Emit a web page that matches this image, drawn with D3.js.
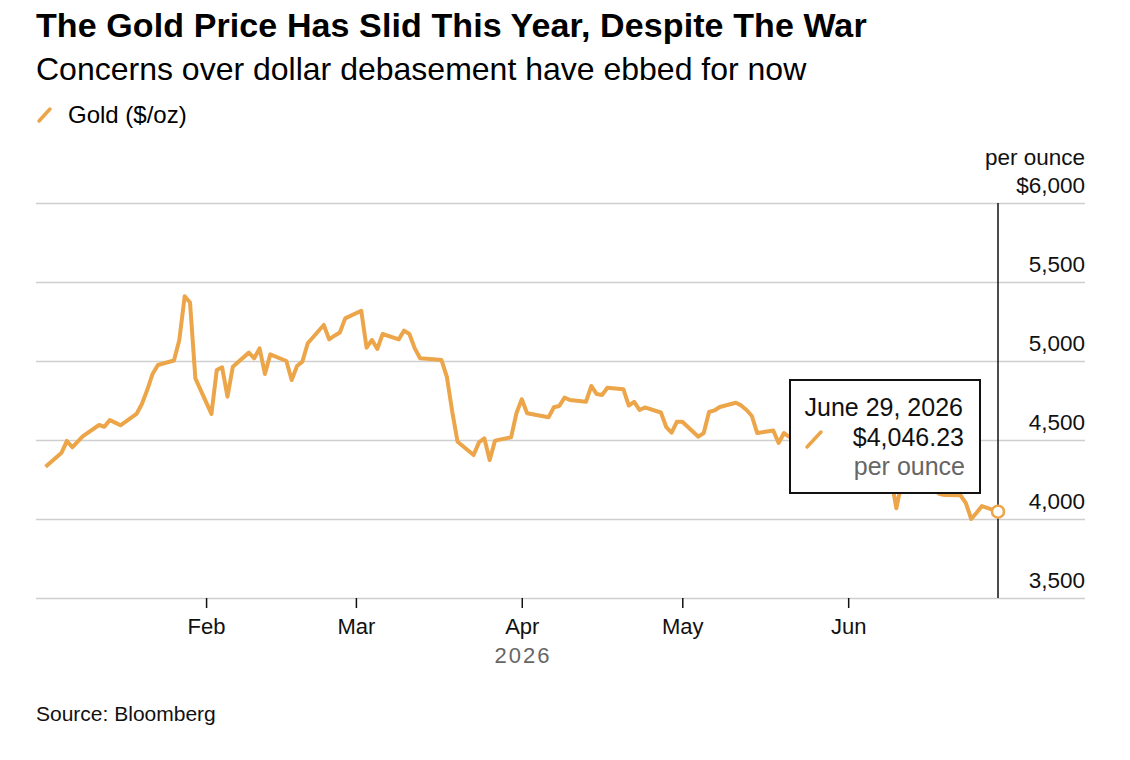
<!DOCTYPE html>
<html>
<head>
<meta charset="utf-8">
<script src="https://cdn.jsdelivr.net/npm/d3@7"></script>
<style>
  body { margin: 0; background: #fff; }
  svg { font-family: "Liberation Sans", Arial, sans-serif; }
</style>
</head>
<body>
<svg id="chart" width="1130" height="760"></svg>
<script>
// gold price, $/oz, trading days 2026
const dates = [
  '2026-01-02','2026-01-05','2026-01-06','2026-01-07','2026-01-08','2026-01-09',
  '2026-01-12','2026-01-13','2026-01-14','2026-01-15','2026-01-16',
  '2026-01-19','2026-01-20','2026-01-21','2026-01-22','2026-01-23',
  '2026-01-26','2026-01-27','2026-01-28','2026-01-29','2026-01-30',
  '2026-02-02','2026-02-03','2026-02-04','2026-02-05','2026-02-06',
  '2026-02-09','2026-02-10','2026-02-11','2026-02-12','2026-02-13',
  '2026-02-16','2026-02-17','2026-02-18','2026-02-19','2026-02-20',
  '2026-02-23','2026-02-24','2026-02-25','2026-02-26','2026-02-27',
  '2026-03-02','2026-03-03','2026-03-04','2026-03-05','2026-03-06',
  '2026-03-09','2026-03-10','2026-03-11','2026-03-12','2026-03-13',
  '2026-03-16','2026-03-17','2026-03-18','2026-03-19','2026-03-20',
  '2026-03-23','2026-03-24','2026-03-25','2026-03-26','2026-03-27',
  '2026-03-30','2026-03-31','2026-04-01','2026-04-02',
  '2026-04-06','2026-04-07','2026-04-08','2026-04-09','2026-04-10',
  '2026-04-13','2026-04-14','2026-04-15','2026-04-16','2026-04-17',
  '2026-04-20','2026-04-21','2026-04-22','2026-04-23','2026-04-24',
  '2026-04-27','2026-04-28','2026-04-29','2026-04-30','2026-05-01',
  '2026-05-04','2026-05-05','2026-05-06','2026-05-07','2026-05-08',
  '2026-05-11','2026-05-12','2026-05-13','2026-05-14','2026-05-15',
  '2026-05-18','2026-05-19','2026-05-20','2026-05-21','2026-05-22',
  '2026-05-26','2026-05-27','2026-05-28','2026-05-29',
  '2026-06-01','2026-06-02','2026-06-03','2026-06-04','2026-06-05',
  '2026-06-08','2026-06-09','2026-06-10','2026-06-11','2026-06-12',
  '2026-06-15','2026-06-16','2026-06-17','2026-06-18','2026-06-19',
  '2026-06-22','2026-06-23','2026-06-24','2026-06-25','2026-06-26',
  '2026-06-29'
];
const gold = [
  4331, 4420, 4494, 4454, 4490, 4525,
  4595, 4584, 4627, 4610, 4593,
  4665, 4728, 4816, 4918, 4975,
  5003, 5133, 5410, 5370, 4890,
  4665, 4943, 4960, 4774, 4964,
  5053, 5017, 5080, 4918, 5042,
  5000, 4880, 4968, 4996, 5112,
  5228, 5137, 5160, 5180, 5270,
  5318, 5084, 5133, 5076, 5171,
  5137, 5192, 5171, 5080, 5017,
  5010, 5006, 4900, 4680, 4489,
  4405, 4485, 4511, 4373, 4496,
  4517, 4669, 4758, 4669,
  4644, 4707, 4715, 4768, 4753,
  4742, 4842, 4791, 4785, 4831,
  4821, 4718, 4741, 4690, 4706,
  4674, 4582, 4546, 4616, 4616,
  4521, 4544, 4677, 4687, 4709,
  4736, 4719, 4690, 4652, 4544,
  4560, 4481, 4544, 4520, 4500,
  4420, 4460, 4380, 4350,
  4300, 4330, 4260, 4280, 4250,
  4280, 4260, 4068, 4230, 4280,
  4250, 4220, 4190, 4160, 4152,
  4150, 4100, 4000, 4040, 4082,
  4046.23
];
const yTicks = [3500, 4000, 4500, 5000, 5500, 6000];
const monthTicks = ['2026-02-01', '2026-03-01', '2026-04-01', '2026-05-01', '2026-06-01'];

const parse = d3.utcParse('%Y-%m-%d');
const series = dates.map((d, i) => ({date: parse(d), value: gold[i]}));
const last = series[series.length - 1];

const color = '#eca548';
const plotLeft = 36, plotRight = 1085, plotTop = 203, plotBottom = 598;

const svg = d3.select('#chart');

const x = d3.scaleUtc()
  .domain([parse('2026-01-01'), parse('2026-06-29')])
  .range([40.2, 998]);
const y = d3.scaleLinear()
  .domain([3500, 6000])
  .range([plotBottom, plotTop]);

// header
svg.append('text')
  .attr('x', 36).attr('y', 37)
  .attr('font-size', 34).attr('font-weight', 700)
  .attr('letter-spacing', 0.1)
  .text('The Gold Price Has Slid This Year, Despite The War');
svg.append('text')
  .attr('x', 36).attr('y', 80)
  .attr('font-size', 32)
  .text('Concerns over dollar debasement have ebbed for now');

// legend
svg.append('line')
  .attr('x1', 39).attr('y1', 121).attr('x2', 50).attr('y2', 109)
  .attr('stroke', color).attr('stroke-width', 3.5).attr('stroke-linecap', 'round');
svg.append('text')
  .attr('x', 68).attr('y', 123)
  .attr('font-size', 24)
  .text('Gold ($/oz)');

// gridlines + right labels
const yAxis = d3.axisRight(y)
  .tickValues(yTicks)
  .tickSize(plotRight - plotLeft)
  .tickFormat(d => d === 6000 ? '$6,000' : d3.format(',')(d));
const gy = svg.append('g')
  .attr('transform', `translate(${plotLeft},0)`)
  .call(yAxis);
gy.select('.domain').remove();
gy.selectAll('.tick line').attr('stroke', '#cfcfcf').attr('stroke-width', 1.5);
gy.selectAll('.tick text')
  .attr('x', plotRight - plotLeft).attr('dy', -11)
  .attr('text-anchor', 'end')
  .attr('font-size', 22.5).attr('fill', '#111')
  .attr('font-family', '"Liberation Sans", Arial, sans-serif');
svg.append('text')
  .attr('x', plotRight).attr('y', 165)
  .attr('text-anchor', 'end').attr('font-size', 22.5).attr('fill', '#111')
  .text('per ounce');

// bottom axis
const xAxis = d3.axisBottom(x)
  .tickValues(monthTicks.map(parse))
  .tickSize(10)
  .tickPadding(10)
  .tickFormat(d3.utcFormat('%b'));
const gx = svg.append('g')
  .attr('transform', `translate(0,${plotBottom})`)
  .call(xAxis);
gx.select('.domain').remove();
gx.selectAll('.tick line').attr('stroke', '#111').attr('stroke-width', 1.5);
gx.selectAll('.tick text')
  .attr('font-size', 22).attr('fill', '#111')
  .attr('font-family', '"Liberation Sans", Arial, sans-serif');
svg.append('text')
  .attr('x', 523).attr('y', 663)
  .attr('text-anchor', 'middle').attr('font-size', 22)
  .attr('fill', '#666').attr('letter-spacing', 2)
  .text('2026');

// cursor line
svg.append('line')
  .attr('x1', x(last.date)).attr('x2', x(last.date))
  .attr('y1', plotTop).attr('y2', plotBottom)
  .attr('stroke', '#111').attr('stroke-width', 1.5);

// price line
const line = d3.line()
  .x(d => x(d.date))
  .y(d => y(d.value));
svg.append('path')
  .datum(series)
  .attr('d', line)
  .attr('fill', 'none')
  .attr('stroke', color)
  .attr('stroke-width', 4)
  .attr('stroke-linejoin', 'round');

svg.append('circle')
  .attr('cx', x(last.date)).attr('cy', y(last.value))
  .attr('r', 6)
  .attr('fill', '#fff').attr('stroke', color).attr('stroke-width', 2.5);

// tooltip
const tip = svg.append('g').attr('transform', 'translate(790,380)');
tip.append('rect')
  .attr('width', 190).attr('height', 113)
  .attr('fill', '#fff').attr('stroke', '#111').attr('stroke-width', 2);
tip.append('text')
  .attr('x', 173).attr('y', 36)
  .attr('text-anchor', 'end').attr('font-size', 25).attr('fill', '#111')
  .text(d3.utcFormat('%B %-d, %Y')(last.date));
tip.append('text')
  .attr('x', 174).attr('y', 66)
  .attr('text-anchor', 'end').attr('font-size', 25).attr('fill', '#111')
  .text('$' + d3.format(',.2f')(last.value));
tip.append('text')
  .attr('x', 175).attr('y', 95)
  .attr('text-anchor', 'end').attr('font-size', 25).attr('fill', '#666')
  .text('per ounce');
tip.append('line')
  .attr('x1', 17).attr('y1', 67).attr('x2', 31).attr('y2', 52)
  .attr('stroke', color).attr('stroke-width', 3.5).attr('stroke-linecap', 'round');

// source
svg.append('text')
  .attr('x', 36).attr('y', 721)
  .attr('font-size', 21).attr('fill', '#111')
  .text('Source: Bloomberg');
</script>
</body>
</html>
